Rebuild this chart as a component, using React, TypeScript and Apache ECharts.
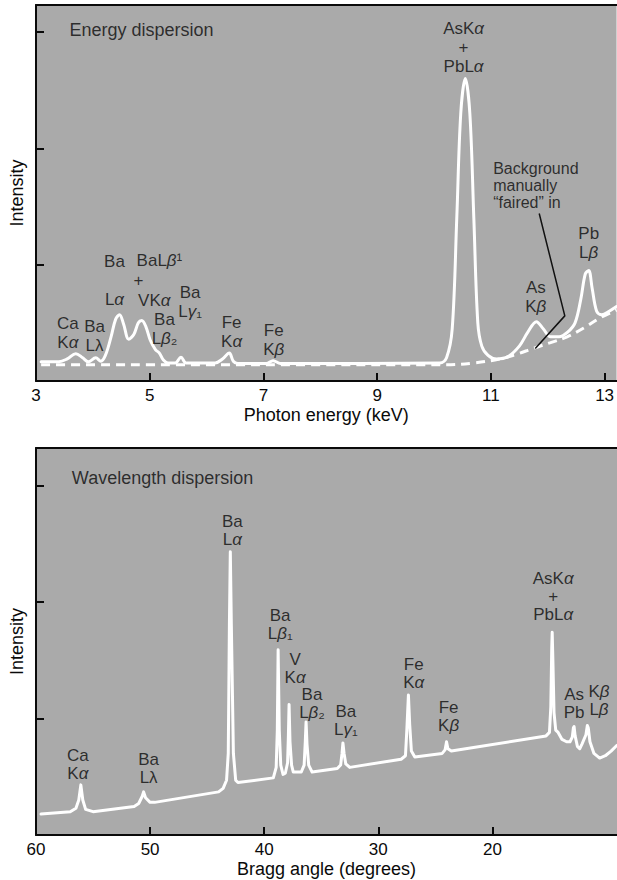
import React, { useEffect, useRef } from "react";
import * as echarts from "echarts";

// ---------- top panel: energy dispersion ----------
const energyTickLabels = [3, 5, 7, 9, 11, 13];
const intensityTicks = [1, 2, 3];

const energyTrace: [number, number][] = [
  [3.09, 0.165], [3.4, 0.165], [3.55, 0.19], [3.7, 0.235], [3.82, 0.2], [3.92, 0.165],
  [4.05, 0.2], [4.14, 0.17], [4.22, 0.22], [4.32, 0.38], [4.4, 0.53], [4.47, 0.57],
  [4.54, 0.49], [4.63, 0.36], [4.72, 0.4], [4.8, 0.5], [4.86, 0.52], [4.93, 0.47],
  [5.01, 0.35], [5.1, 0.27], [5.17, 0.24], [5.24, 0.18], [5.32, 0.155], [5.45, 0.155],
  [5.55, 0.205], [5.64, 0.155], [6.15, 0.155], [6.28, 0.19], [6.4, 0.24], [6.47, 0.17],
  [6.55, 0.15], [7.05, 0.15], [7.17, 0.175], [7.3, 0.15], [10.1, 0.155], [10.22, 0.2],
  [10.32, 0.45], [10.4, 1.4], [10.47, 2.3], [10.55, 2.6], [10.63, 2.3], [10.7, 1.4],
  [10.77, 0.5], [10.84, 0.3], [10.95, 0.22], [11.1, 0.19], [11.3, 0.21], [11.5, 0.3],
  [11.65, 0.42], [11.8, 0.51], [11.92, 0.45], [12.05, 0.38], [12.2, 0.38], [12.35, 0.42],
  [12.48, 0.5], [12.58, 0.7], [12.66, 0.92], [12.72, 0.95], [12.78, 0.8], [12.86, 0.6],
  [12.95, 0.57], [13.08, 0.6], [13.21, 0.64],
];

const energyBackground: [number, number][] = [
  [3.09, 0.14], [10.2, 0.14], [10.7, 0.155], [11.16, 0.19], [11.45, 0.23], [11.74, 0.28],
  [12.05, 0.33], [12.34, 0.38], [12.65, 0.46], [12.91, 0.54], [13.21, 0.61],
];

const fairedPointer: [number, number][] = [[11.85, 1.44], [12.3, 0.56], [11.78, 0.28]];

const energyPeakLabels: [number, number, string][] = [
  [10.52, 2.87, "AsKα\n+\nPbLα"],
  [12.72, 1.187, "Pb\nLβ"],
  [11.79, 0.718, "As\nKβ"],
  [3.56, 0.417, "Ca\nKα"],
  [4.03, 0.383, "Ba\nLλ"],
  [4.38, 0.868, "Ba\n \nLα"],
  [5.17, 1.04, "BaLβ¹"],
  [4.8, 0.86, "+"],
  [5.08, 0.696, "VKα"],
  [5.26, 0.451, "Ba\nLβ₂"],
  [5.71, 0.675, "Ba\nLγ₁"],
  [6.44, 0.421, "Fe\nKα"],
  [7.18, 0.353, "Fe\nKβ"],
];

const energyTitle: [number, number, string][] = [[3.59, 3.02, "Energy dispersion"]];
const energyNote: [number, number, string][] = [[11.04, 1.677, "Background\nmanually\n“faired” in"]];

// ---------- bottom panel: wavelength dispersion ----------
const braggTickLabels = [20, 30, 40, 50, 60];

const braggTrace: [number, number][] = [
  [59.56, 0.18], [57.0, 0.2], [56.5, 0.23], [56.25, 0.3], [56.07, 0.43], [55.9, 0.3],
  [55.65, 0.22], [55.0, 0.2], [51.4, 0.245], [51.0, 0.27], [50.7, 0.33], [50.57, 0.37],
  [50.4, 0.32], [50.0, 0.28], [49.6, 0.28], [44.0, 0.37], [43.6, 0.4], [43.3, 0.47],
  [43.15, 0.7], [43.05, 1.8], [42.97, 2.43], [42.88, 1.8], [42.7, 0.7], [42.5, 0.47],
  [42.3, 0.45], [39.2, 0.49], [38.95, 0.58], [38.85, 0.9], [38.78, 1.59], [38.68, 0.9],
  [38.55, 0.6], [38.35, 0.52], [38.15, 0.53], [37.95, 0.62], [37.88, 0.85], [37.82, 1.12],
  [37.74, 0.8], [37.6, 0.6], [37.45, 0.54], [36.75, 0.54], [36.5, 0.6], [36.4, 0.8],
  [36.33, 0.97], [36.25, 0.78], [36.1, 0.6], [35.8, 0.54], [33.6, 0.57], [33.3, 0.6],
  [33.18, 0.7], [33.1, 0.79], [33.0, 0.7], [32.85, 0.61], [32.5, 0.58], [28.0, 0.65],
  [27.62, 0.68], [27.5, 0.9], [27.36, 1.2], [27.25, 0.95], [27.1, 0.72], [26.8, 0.67],
  [24.4, 0.7], [24.15, 0.73], [24.02, 0.8], [23.9, 0.74], [23.6, 0.72], [15.3, 0.85],
  [15.0, 0.88], [14.88, 1.1], [14.8, 1.6], [14.76, 1.74], [14.7, 1.5], [14.6, 1.05],
  [14.45, 0.9], [14.24, 0.88], [13.9, 0.82], [13.5, 0.8], [13.2, 0.8], [13.0, 0.84],
  [12.9, 0.92], [12.84, 0.93], [12.75, 0.85], [12.55, 0.76], [12.35, 0.74], [12.15, 0.78],
  [11.8, 0.86], [11.68, 0.94], [11.6, 0.92], [11.45, 0.8], [11.1, 0.7], [10.6, 0.66],
  [10.1, 0.68], [9.6, 0.72], [9.08, 0.77],
];

const braggPeakLabels: [number, number, string][] = [
  [42.79, 2.61, "Ba\nLα"],
  [38.6, 1.81, "Ba\nLβ₁"],
  [37.29, 1.425, "V\nKα"],
  [35.81, 1.129, "Ba\nLβ₂"],
  [32.84, 0.983, "Ba\nLγ₁"],
  [26.9, 1.382, "Fe\nKα"],
  [23.84, 1.013, "Fe\nKβ"],
  [14.67, 2.05, "AsKα\n+\nPbLα"],
  [12.84, 1.124, "As\nPb"],
  [10.66, 1.15, "Kβ\nLβ"],
  [56.33, 0.609, "Ca\nKα"],
  [50.13, 0.567, "Ba\nLλ"],
];

const braggTitle: [number, number, string][] = [[56.86, 3.064, "Wavelength dispersion"]];

// ---------- styling ----------
const FONT = "'Liberation Sans', Arial, Helvetica, sans-serif";
const INK = "#0a0a0a";
const PANEL = "#aaaaaa";

const withGreek = (s: string) => s.replace(/([αβγ])/g, "{g|$1}");

function labelSeries(
  items: [number, number, string][],
  xi: number,
  yi: number,
  align: string,
  size: number,
  lh: number
) {
  return {
    type: "scatter",
    xAxisIndex: xi,
    yAxisIndex: yi,
    symbolSize: 0,
    silent: true,
    z: 10,
    data: items.map((d) => ({ value: [d[0], d[1]], name: d[2] })),
    label: {
      show: true,
      position: "inside",
      align,
      verticalAlign: "middle",
      fontFamily: FONT,
      fontSize: size,
      color: INK,
      lineHeight: lh,
      formatter: (p: any) => withGreek(p.name),
      rich: {
        g: { fontStyle: "italic", fontFamily: FONT, fontSize: size, color: INK, lineHeight: lh },
      },
    },
  };
}

function bottomAxis(grid: number, min: number, max: number, inverse: boolean, ticks: number[], name: string) {
  return {
    type: "value",
    gridIndex: grid,
    position: "bottom",
    min,
    max,
    inverse,
    name,
    nameLocation: "middle",
    nameGap: 25,
    nameTextStyle: { fontFamily: FONT, fontSize: 18, color: INK },
    axisLine: { show: true, onZero: false, lineStyle: { color: INK, width: 2 } },
    axisTick: { show: true, inside: true, length: 8, customValues: ticks, lineStyle: { color: INK, width: 2 } },
    axisLabel: { show: true, customValues: ticks, margin: 6, fontFamily: FONT, fontSize: 17, color: INK },
    splitLine: { show: false },
  };
}

function topLine(grid: number, min: number, max: number, inverse: boolean) {
  return {
    type: "value",
    gridIndex: grid,
    position: "top",
    min,
    max,
    inverse,
    axisLine: { show: true, onZero: false, lineStyle: { color: INK, width: 2 } },
    axisTick: { show: false },
    axisLabel: { show: false },
    splitLine: { show: false },
  };
}

function leftAxis(grid: number, max: number) {
  return {
    type: "value",
    gridIndex: grid,
    min: 0,
    max,
    name: "Intensity",
    nameLocation: "middle",
    nameRotate: 90,
    nameGap: 10,
    nameTextStyle: { fontFamily: FONT, fontSize: 18, color: INK },
    axisLine: { show: true, onZero: false, lineStyle: { color: INK, width: 2 } },
    axisTick: { show: true, inside: true, length: 8, customValues: intensityTicks, lineStyle: { color: INK, width: 2 } },
    axisLabel: { show: false },
    splitLine: { show: false },
  };
}

export default function App() {
  const ref = useRef<HTMLDivElement>(null);
  useEffect(() => {
    if (!ref.current) return;
    const chart = echarts.init(ref.current, undefined, { renderer: "svg" });
    const E_MIN = 3, E_MAX = 13.21, B_MIN = 9.08, B_MAX = 60;
    chart.setOption({
      animation: false,
      backgroundColor: "#ffffff",
      grid: [
        { left: 33, top: 5, width: 584, height: 376, show: true, backgroundColor: PANEL, borderWidth: 0 },
        { left: 34, top: 448, width: 583, height: 387, show: true, backgroundColor: PANEL, borderWidth: 0 },
      ],
      xAxis: [
        bottomAxis(0, E_MIN, E_MAX, false, energyTickLabels, "Photon energy (keV)"),
        topLine(0, E_MIN, E_MAX, false),
        bottomAxis(1, B_MIN, B_MAX, true, braggTickLabels, "Bragg angle (degrees)"),
        topLine(1, B_MIN, B_MAX, true),
      ],
      yAxis: [leftAxis(0, 3.233), leftAxis(1, 3.32)],
      series: [
        {
          type: "line",
          xAxisIndex: 0,
          yAxisIndex: 0,
          data: energyBackground,
          showSymbol: false,
          smooth: 0.4,
          silent: true,
          z: 2,
          lineStyle: { color: "#ffffff", width: 3, type: [9, 6] },
        },
        {
          type: "line",
          xAxisIndex: 0,
          yAxisIndex: 0,
          data: energyTrace,
          showSymbol: false,
          smooth: 0.35,
          silent: true,
          z: 3,
          lineStyle: { color: "#ffffff", width: 3, join: "round", cap: "round" },
        },
        {
          type: "line",
          xAxisIndex: 0,
          yAxisIndex: 0,
          data: fairedPointer,
          showSymbol: false,
          silent: true,
          z: 4,
          lineStyle: { color: "#111111", width: 1.5 },
        },
        labelSeries(energyPeakLabels, 0, 0, "center", 17, 19),
        labelSeries(energyTitle, 0, 0, "left", 18, 20),
        labelSeries(energyNote, 0, 0, "left", 16, 17),
        {
          type: "line",
          xAxisIndex: 2,
          yAxisIndex: 1,
          data: braggTrace,
          showSymbol: false,
          silent: true,
          z: 3,
          lineStyle: { color: "#ffffff", width: 3, join: "round", cap: "round" },
        },
        labelSeries(braggPeakLabels, 2, 1, "center", 17, 18),
        labelSeries(braggTitle, 2, 1, "left", 18, 20),
      ],
    });
    return () => chart.dispose();
  }, []);
  return (
    <div
      ref={ref}
      style={{ position: "absolute", left: 0, top: 0, width: 617, height: 880, background: "#fff" }}
    />
  );
}
